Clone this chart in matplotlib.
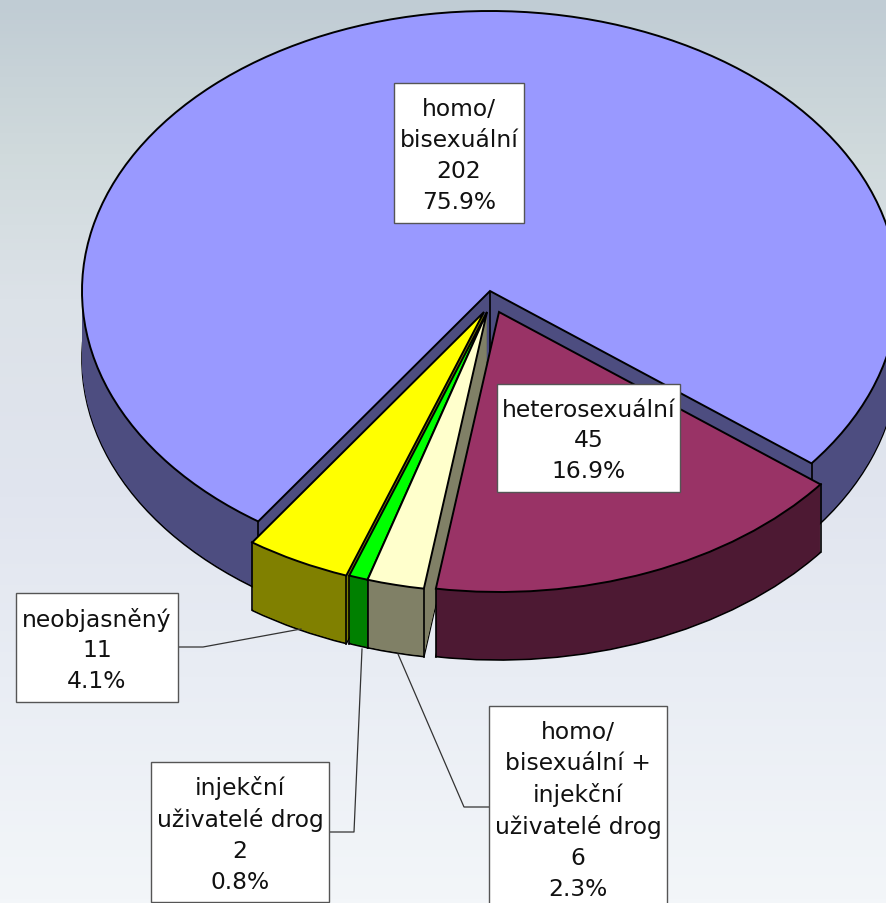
import numpy as np
import matplotlib
matplotlib.use('Agg')
import matplotlib.pyplot as plt
from matplotlib.colors import LinearSegmentedColormap
from matplotlib.patches import Rectangle

# Clockwise order, starting at the right hand cut of the big slice
names = ['heterosexuální', 'homo/\nbisexuální +\ninjekční\nuživatelé drog',
         'injekční\nuživatelé drog', 'neobjasněný', 'homo/\nbisexuální']
values = [45, 6, 2, 11, 202]
top_colors = ['#993366', '#ffffcc', '#00ff00', '#ffff00', '#9999ff']
wall_colors = ['#4d1933', '#808066', '#008000', '#808000', '#4d4d80']

W, H = 887, 904
CX, CY = 490, 292
RX, RY = 408, 280
DEPTH = 68
START = -38

# how far each slice is pulled out of the pie, pixels
shift_x = [9, -3, -3, -6, 0]
shift_y = [21, 21, 21, 21, 0]

# box x0, y0, x1, y1 and leader line for each label
boxes = [(497, 385, 680, 493), (489, 707, 667, 911), (151, 763, 329, 903),
         (16, 594, 178, 703), (394, 84, 524, 224)]
leaders = [None,
           [(489, 808), (464, 808), (398, 655)],
           [(329, 833), (354, 833), (362, 650)],
           [(178, 648), (203, 648), (301, 630)],
           None]

total = sum(values)
fig = plt.figure(figsize=(W / 100, H / 100), dpi=100)

# background gradient
bg = fig.add_axes([0, 0, 1, 1])
cmap = LinearSegmentedColormap.from_list('bg', [
    (0.0, '#c0ccd4'), (0.17, '#d0dadc'), (0.33, '#dce2e8'),
    (0.55, '#e1e5ef'), (0.75, '#e9edf4'), (1.0, '#f3f6f9')])
bg.imshow(np.linspace(0, 1, 256).reshape(-1, 1), cmap=cmap, aspect='auto')
bg.axis('off')

# the pie lives in unit circle coords, squashed by the axis limits
ax = fig.add_axes([0, 0, 1, 1])
ax.patch.set_alpha(0)


def unit(px, py):
    return (px - CX) / RX, (CY - py) / RY


z = 1
order = [4, 3, 2, 1, 0]
starts = START - np.cumsum([0] + values[:-1]) / total * 360

for i in order:
    frac = values[i] / total
    cx, cy = unit(CX + shift_x[i], CY + shift_y[i])
    # wall: stack of copies, the lowest one keeps a black outline
    for layer in range(DEPTH, 0, -1):
        lw = 1.2 if layer == DEPTH else 0
        ax.pie([frac], startangle=starts[i], counterclock=False, normalize=False,
               center=(cx, cy - layer / RY), colors=[wall_colors[i]],
               wedgeprops=dict(linewidth=lw, edgecolor='black', zorder=z))
        z += 1
    # vertical corners
    for ang in [starts[i], starts[i] - frac * 360]:
        x = cx + np.cos(np.radians(ang))
        y = cy + np.sin(np.radians(ang))
        ax.plot([x, x], [y, y - DEPTH / RY], color='black', lw=1.2, zorder=z)
    # only the big slice shows its inner corner
    if i == 4:
        ax.plot([cx, cx], [cy, cy - DEPTH / RY], color='black', lw=1.2, zorder=z)
    z += 1
    ax.pie([frac], startangle=starts[i], counterclock=False, normalize=False,
           center=(cx, cy), colors=[top_colors[i]],
           wedgeprops=dict(linewidth=1.4, edgecolor='black', zorder=z))
    z += 1

ax.set_aspect('auto')
ax.set_xlim(-CX / RX, (W - CX) / RX)
ax.set_ylim((CY - H) / RY, CY / RY)
ax.axis('off')

# labels in pixel coords
lab = fig.add_axes([0, 0, 1, 1])
lab.set_xlim(0, W)
lab.set_ylim(H, 0)
lab.axis('off')
lab.patch.set_alpha(0)

for i in range(len(values)):
    x0, y0, x1, y1 = boxes[i]
    if leaders[i]:
        xs, ys = zip(*leaders[i])
        lab.plot(xs, ys, color='#333333', lw=0.9)
    lab.add_patch(Rectangle((x0, y0), x1 - x0, y1 - y0, fc='white', ec='#555555', lw=1, zorder=3))
    pct = values[i] / total * 100
    label = f'{names[i]}\n{values[i]}\n{pct:.1f}%'
    lab.text((x0 + x1) / 2, (y0 + y1) / 2 + 2, label, ha='center', va='center', fontsize=16.8,
             linespacing=1.43, color='#111111', family='DejaVu Sans', zorder=4)

plt.savefig('out.png', dpi=100)
